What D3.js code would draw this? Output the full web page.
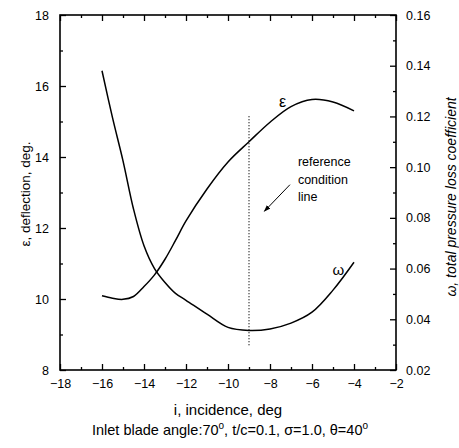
<!DOCTYPE html>
<html>
<head>
<meta charset="utf-8">
<script src="https://cdn.jsdelivr.net/npm/d3@7"></script>
<style>
  html, body { margin: 0; padding: 0; background: #fff; }
  svg { display: block; font-family: "Liberation Sans", Arial, sans-serif; }
</style>
</head>
<body>
<svg id="chart" width="459" height="448"></svg>
<script>
// Incidence angle (deg) at which both curves are sampled
const incidence = [-16, -15.5, -15, -14.5, -14, -13.5, -13, -12.5, -12, -11, -10, -9, -8, -7, -6, -5, -4];
// Deflection, deg (left axis)
const deflection = [10.09, 10.02, 9.99, 10.07, 10.35, 10.68, 11.12, 11.65, 12.2, 13.1, 13.86, 14.43, 14.98, 15.42, 15.62, 15.55, 15.30];
// Total pressure loss coefficient (right axis)
const lossCoef = [0.138, 0.1195, 0.1025, 0.0835, 0.069, 0.0600, 0.0545, 0.0502, 0.0475, 0.0420, 0.0368, 0.0356, 0.0362, 0.0385, 0.0428, 0.0515, 0.0625];

// Reference condition line
const refIncidence = -9;
const refSpan = [8.7, 15.2];

const xTicks = [-18, -16, -14, -12, -10, -8, -6, -4, -2];
const yLeftTicks = [8, 10, 12, 14, 16, 18];
const yRightTicks = [0.02, 0.04, 0.06, 0.08, 0.10, 0.12, 0.14, 0.16];

const margin = { left: 60, right: 63, top: 15, bottom: 78 };
const W = 459, H = 448;
const svg = d3.select("#chart");

const x = d3.scaleLinear().domain([-18, -2]).range([margin.left, W - margin.right]);
const yL = d3.scaleLinear().domain([8, 18]).range([H - margin.bottom, margin.top]);
const yR = d3.scaleLinear().domain([0.02, 0.16]).range([H - margin.bottom, margin.top]);

const x0 = x.range()[0], x1 = x.range()[1];
const yb = yL.range()[0], yt = yL.range()[1];

// Axes with inward ticks; minor ticks are drawn separately
function styleAxis(g) {
  g.select(".domain").remove();
  g.selectAll("line").attr("stroke", "#000").attr("stroke-width", 1.3);
  g.selectAll("text").attr("fill", "#000").attr("font-size", 12.5);
}

const minorX = d3.range(-17, -2, 2);
const minorYL = d3.range(9, 18, 2);
const minorYR = d3.range(0.03, 0.16, 0.02);

// bottom
svg.append("g").attr("transform", `translate(0,${yb})`)
  .call(d3.axisBottom(x).tickValues(xTicks).tickSizeInner(-6).tickSizeOuter(0).tickPadding(9).tickFormat(d3.format("d")))
  .call(styleAxis);
svg.append("g").attr("transform", `translate(0,${yb})`)
  .call(d3.axisBottom(x).tickValues(minorX).tickSizeInner(-3).tickSizeOuter(0).tickFormat(""))
  .call(styleAxis);
// top
svg.append("g").attr("transform", `translate(0,${yt})`)
  .call(d3.axisTop(x).tickValues(xTicks).tickSizeInner(-6).tickSizeOuter(0).tickFormat(""))
  .call(styleAxis);
svg.append("g").attr("transform", `translate(0,${yt})`)
  .call(d3.axisTop(x).tickValues(minorX).tickSizeInner(-3).tickSizeOuter(0).tickFormat(""))
  .call(styleAxis);
// left
svg.append("g").attr("transform", `translate(${x0},0)`)
  .call(d3.axisLeft(yL).tickValues(yLeftTicks).tickSizeInner(-6).tickSizeOuter(0).tickPadding(11).tickFormat(d3.format("d")))
  .call(styleAxis);
svg.append("g").attr("transform", `translate(${x0},0)`)
  .call(d3.axisLeft(yL).tickValues(minorYL).tickSizeInner(-3).tickSizeOuter(0).tickFormat(""))
  .call(styleAxis);
// right
svg.append("g").attr("transform", `translate(${x1},0)`)
  .call(d3.axisRight(yR).tickValues(yRightTicks).tickSizeInner(-6).tickSizeOuter(0).tickPadding(10).tickFormat(d3.format(".2f")))
  .call(styleAxis);
svg.append("g").attr("transform", `translate(${x1},0)`)
  .call(d3.axisRight(yR).tickValues(minorYR).tickSizeInner(-3).tickSizeOuter(0).tickFormat(""))
  .call(styleAxis);

// frame
svg.append("rect")
  .attr("x", x0).attr("y", yt).attr("width", x1 - x0).attr("height", yb - yt)
  .attr("fill", "none").attr("stroke", "#000").attr("stroke-width", 1.6);

// curves
const epsLine = d3.line().curve(d3.curveCatmullRom.alpha(0.5))
  .x((d, i) => x(incidence[i])).y(d => yL(d));
const omegaLine = d3.line().curve(d3.curveCatmullRom.alpha(0.5))
  .x((d, i) => x(incidence[i])).y(d => yR(d));

svg.append("path").datum(deflection).attr("d", epsLine)
  .attr("fill", "none").attr("stroke", "#000").attr("stroke-width", 1.5);
svg.append("path").datum(lossCoef).attr("d", omegaLine)
  .attr("fill", "none").attr("stroke", "#000").attr("stroke-width", 1.5);

// reference condition line
svg.append("line")
  .attr("x1", x(refIncidence)).attr("x2", x(refIncidence))
  .attr("y1", yL(refSpan[0])).attr("y2", yL(refSpan[1]))
  .attr("stroke", "#000").attr("stroke-width", 1.2).attr("stroke-dasharray", "1,2");

// curve labels
svg.append("text").attr("x", x(-7.4)).attr("y", yL(15.4))
  .attr("font-size", 16).attr("text-anchor", "middle").text("ε");
svg.append("text").attr("x", x(-4.75)).attr("y", yR(0.0575))
  .attr("font-size", 15).attr("text-anchor", "middle").text("ω");

// annotation
const note = svg.append("text").attr("font-size", 12.5).attr("fill", "#000");
["reference", "condition", "line"].forEach((t, k) => {
  note.append("tspan").attr("x", x(-6.67)).attr("y", 166 + 17.5 * k).text(t);
});
const ax1 = x(-7.05), ay1 = yL(13.22), ax2 = x(-8.27), ay2 = yL(12.47);
svg.append("defs").append("marker")
  .attr("id", "head").attr("viewBox", "0 0 10 10").attr("refX", 9).attr("refY", 5)
  .attr("markerWidth", 7).attr("markerHeight", 7).attr("orient", "auto")
  .append("path").attr("d", "M0,1.5L10,5L0,8.5Z").attr("fill", "#000");
svg.append("line").attr("x1", ax1).attr("y1", ay1).attr("x2", ax2).attr("y2", ay2)
  .attr("stroke", "#000").attr("stroke-width", 1).attr("marker-end", "url(#head)");

// axis titles
svg.append("text").attr("x", (x0 + x1) / 2).attr("y", 415)
  .attr("font-size", 15).attr("text-anchor", "middle").text("i, incidence, deg");

const sub = svg.append("text").attr("x", (x0 + x1) / 2 + 2).attr("y", 435)
  .attr("font-size", 14.5).attr("text-anchor", "middle");
sub.append("tspan").text("Inlet blade angle:70");
sub.append("tspan").attr("dy", -6).attr("font-size", 10).text("o");
sub.append("tspan").attr("dy", 6).text(", t/c=0.1, σ=1.0, θ=40");
sub.append("tspan").attr("dy", -6).attr("font-size", 10).text("o");

svg.append("text")
  .attr("transform", `translate(30,194) rotate(-90)`)
  .attr("font-size", 13.5).attr("text-anchor", "middle").text("ε, deflection, deg.");

svg.append("text")
  .attr("transform", `translate(456,197) rotate(-90)`)
  .attr("font-size", 14).attr("font-style", "italic").attr("text-anchor", "middle")
  .text("ω, total pressure loss coefficient");
</script>
</body>
</html>
